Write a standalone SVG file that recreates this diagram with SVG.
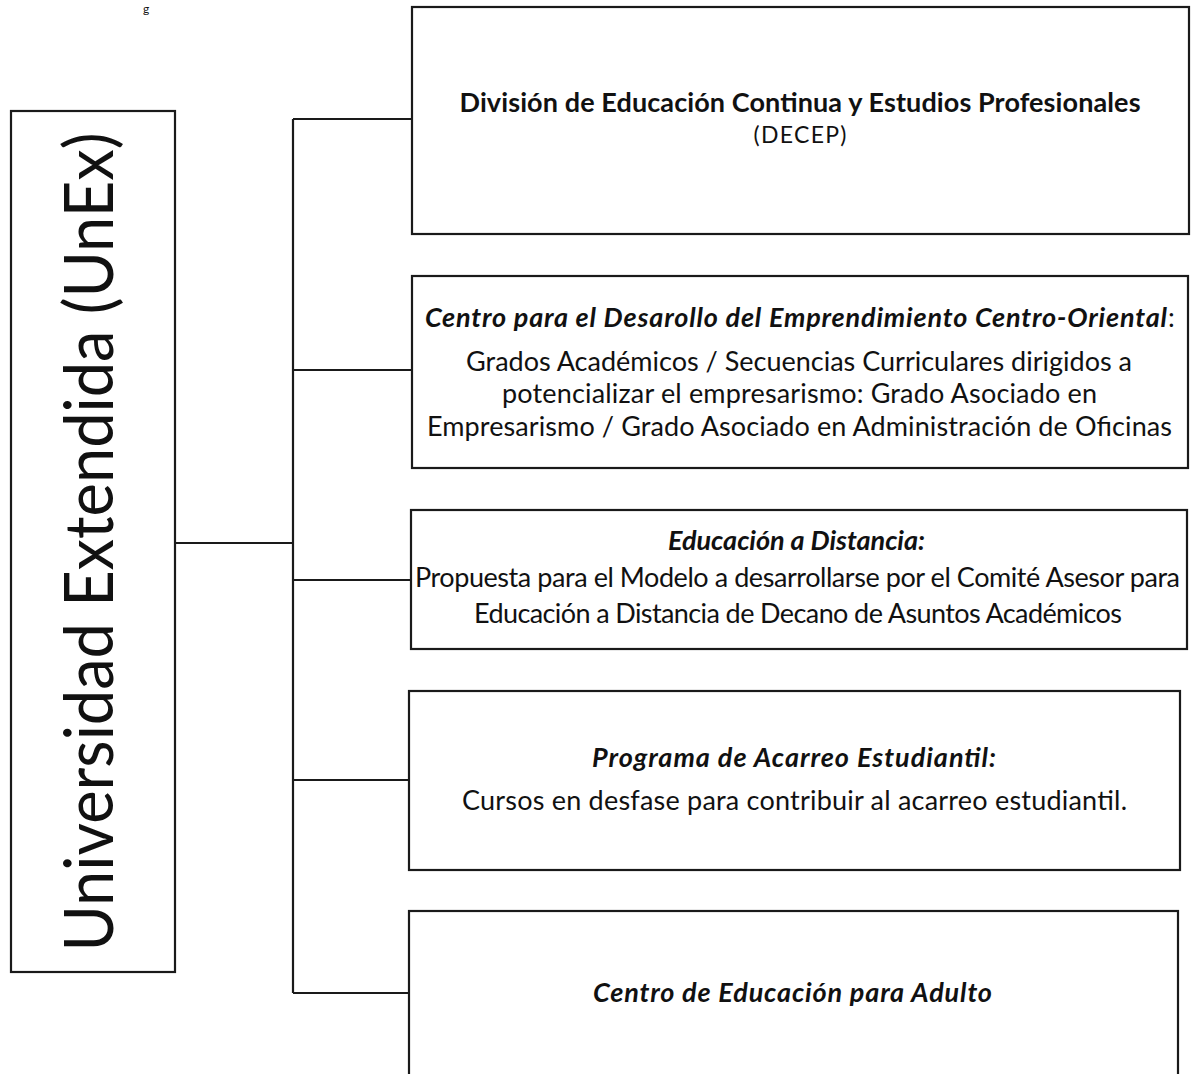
<svg xmlns="http://www.w3.org/2000/svg" width="1197" height="1074" viewBox="0 0 1197 1074">
<style>
.box{fill:#fff;stroke:#1a1a1a;stroke-width:2.2}
.con{fill:none;stroke:#1a1a1a;stroke-width:2.2}
text{font-family:Lato,"Open Sans","Liberation Sans",sans-serif;fill:#111}
.t{font-weight:bold;font-size:27px;text-anchor:middle}
.ti{font-weight:bold;font-style:italic;font-size:27px}
.b{font-size:27px;text-anchor:middle}
.m{text-anchor:middle}
</style>
<rect width="1197" height="1074" fill="#fff"/>
<text x="143" y="13" font-size="12">g</text>
<g id="connectors">
<path class="con" d="M176 543H293M293 119V993M293 119H412M293 370H412M293 580H411M293 780H409M293 993H409"/>
</g>
<g id="root">
<rect class="box" x="11" y="111" width="164" height="861"/>
<text transform="translate(113,542) rotate(-90)" x="0" y="0" font-size="67" text-anchor="middle" textLength="819" lengthAdjust="spacingAndGlyphs">Universidad Extendida (UnEx)</text>
</g>
<g id="decep">
<rect class="box" x="412" y="7" width="777" height="227"/>
<text class="t" x="800" y="112" textLength="681">División de Educación Continua y Estudios Profesionales</text>
<text class="m" x="800" y="143" font-size="23" textLength="93">(DECEP)</text>
</g>
<g id="centro-desarrollo">
<rect class="box" x="412" y="276" width="776" height="192"/>
<text class="ti" x="425" y="327" textLength="742">Centro para el Desarollo del Emprendimiento Centro-Oriental</text>
<text x="1168" y="327" font-size="27">:</text>
<text class="b" x="799" y="371" textLength="666">Grados Académicos / Secuencias Curriculares dirigidos a</text>
<text class="b" x="799.5" y="403" textLength="595">potencializar el empresarismo: Grado Asociado en</text>
<text class="b" x="799.5" y="436" textLength="745">Empresarismo / Grado Asociado en Administración de Oficinas</text>
</g>
<g id="distancia">
<rect class="box" x="411" y="510" width="776" height="139"/>
<text class="ti m" x="796.5" y="550" textLength="257">Educación a Distancia:</text>
<text class="b" x="797.5" y="587" textLength="765">Propuesta para el Modelo a desarrollarse por el Comité Asesor para</text>
<text class="b" x="798" y="623" textLength="648">Educación a Distancia de Decano de Asuntos Académicos</text>
</g>
<g id="acarreo">
<rect class="box" x="409" y="691" width="771" height="179"/>
<text class="ti m" x="794" y="767" textLength="404">Programa de Acarreo Estudiantil:</text>
<text class="b" x="794.5" y="810" textLength="665">Cursos en desfase para contribuir al acarreo estudiantil.</text>
</g>
<g id="adulto">
<rect class="box" x="409" y="911" width="769" height="180"/>
<text class="ti m" x="792.5" y="1002" textLength="399">Centro de Educación para Adulto</text>
</g>
</svg>
